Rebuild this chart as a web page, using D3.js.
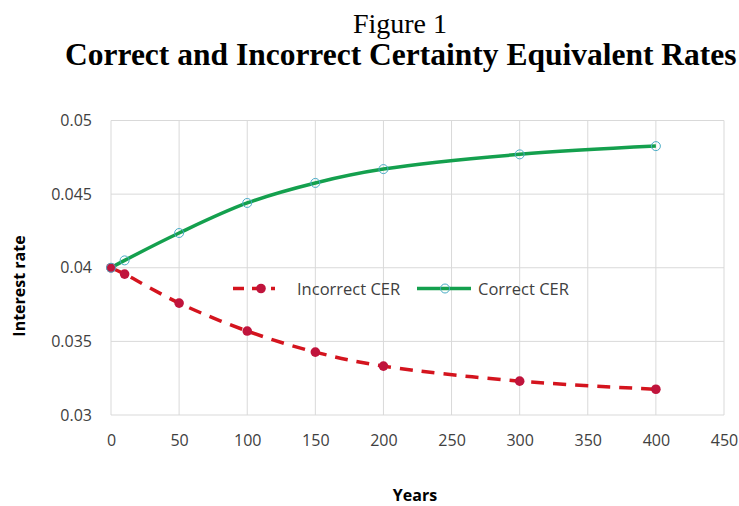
<!DOCTYPE html>
<html><head><meta charset="utf-8">
<script src="https://cdn.jsdelivr.net/npm/d3@7"></script>
<style>body{margin:0;background:#fff;overflow:hidden}</style>
</head><body>
<svg id="c" width="739" height="506"></svg>
<script>
const years = [0, 10, 50, 100, 150, 200, 300, 400];
const correctCER = [0.0400, 0.0405, 0.04236, 0.0444, 0.04576, 0.0467, 0.0477, 0.04826];
const incorrectCER = [0.0400, 0.03957, 0.0376, 0.0357, 0.03427, 0.03332, 0.0323, 0.03175];
const xTicks = [0, 50, 100, 150, 200, 250, 300, 350, 400, 450];
const yTicks = [0.03, 0.035, 0.04, 0.045, 0.05];
const seriesNames = ["Incorrect CER", "Correct CER"];

const svg = d3.select("#c");
const x = d3.scaleLinear().domain([0, 450]).range([111, 724]);
const y = d3.scaleLinear().domain([0.03, 0.05]).range([415, 120.5]);
const sans = "Open Sans, sans-serif";

svg.append("text").attr("x", 400).attr("y", 33).attr("text-anchor", "middle")
  .attr("font-family", "Liberation Serif, Times New Roman, serif").attr("font-size", 28).text("Figure 1");
svg.append("text").attr("x", 65).attr("y", 65)
  .attr("font-family", "Liberation Serif, Times New Roman, serif").attr("font-size", 31.5).attr("font-weight", "bold")
  .text("Correct and Incorrect Certainty Equivalent Rates");

// grid
const g = svg.append("g");
g.selectAll(".vg").data(xTicks).join("line")
  .attr("x1", d => x(d)).attr("x2", d => x(d)).attr("y1", y(0.05)).attr("y2", y(0.03))
  .attr("stroke", "#d9d9d9").attr("stroke-width", 1);
g.selectAll(".hg").data(yTicks).join("line")
  .attr("x1", x(0)).attr("x2", x(450)).attr("y1", d => y(d)).attr("y2", d => y(d))
  .attr("stroke", "#d9d9d9").attr("stroke-width", 1);

// axes tick labels
const xAxis = d3.axisBottom(x).tickValues(xTicks).tickSize(0).tickPadding(20).tickFormat(d3.format("d"));
const xa = svg.append("g").attr("transform", `translate(0,${y(0.03)})`).call(xAxis);
xa.select(".domain").remove();
xa.selectAll("text").attr("font-family", sans).attr("font-size", 16).attr("fill", "#404040");
const yAxis = d3.axisLeft(y).tickValues(yTicks).tickSize(0).tickPadding(19).tickFormat(d => String(+d.toFixed(3)));
const ya = svg.append("g").attr("transform", `translate(${x(0)},0)`).call(yAxis);
ya.select(".domain").remove();
ya.selectAll("text").attr("font-family", sans).attr("font-size", 16).attr("fill", "#404040");

svg.append("text").attr("transform", "translate(25,286) rotate(-90)").attr("text-anchor", "middle")
  .attr("font-family", sans).attr("font-weight", "bold").attr("font-size", 16).attr("fill", "#000")
  .text("Interest rate");
svg.append("text").attr("x", 415).attr("y", 501).attr("text-anchor", "middle")
  .attr("font-family", sans).attr("font-weight", "bold").attr("font-size", 16).attr("fill", "#000")
  .text("Years");

const red = "#d4141e", green = "#14a04e", teal = "#4bacc6", dotRed = "#c0143c";
const line = d3.line().curve(d3.curveCatmullRom.alpha(0.5)).x((d, i) => x(years[i])).y(d => y(d));

svg.append("path").attr("d", line(incorrectCER)).attr("fill", "none").attr("stroke", red)
  .attr("stroke-width", 3.5).attr("stroke-dasharray", "13,9");
svg.append("path").attr("d", line(correctCER)).attr("fill", "none").attr("stroke", green)
  .attr("stroke-width", 3.5);

svg.selectAll(".ri").data(incorrectCER).join("circle")
  .attr("cx", (d, i) => x(years[i])).attr("cy", d => y(d)).attr("r", 4.8).attr("fill", dotRed);
svg.selectAll(".gc").data(correctCER).join("circle")
  .attr("cx", (d, i) => x(years[i])).attr("cy", d => y(d)).attr("r", 4.5)
  .attr("fill", "none").attr("stroke", teal).attr("stroke-width", 1);

// legend
const ly = 288.5;
svg.append("line").attr("x1", 233).attr("x2", 275).attr("y1", ly).attr("y2", ly)
  .attr("stroke", red).attr("stroke-width", 3.5).attr("stroke-dasharray", "11,8");
svg.append("circle").attr("cx", 261).attr("cy", ly).attr("r", 4.8).attr("fill", dotRed);
svg.append("text").attr("x", 297).attr("y", ly + 6).attr("font-family", sans)
  .attr("font-size", 16.5).attr("fill", "#404040").text(seriesNames[0]);
svg.append("line").attr("x1", 417).attr("x2", 471).attr("y1", ly).attr("y2", ly)
  .attr("stroke", green).attr("stroke-width", 3.5);
svg.append("circle").attr("cx", 445).attr("cy", ly).attr("r", 4.5).attr("fill", "none").attr("stroke", teal).attr("stroke-width", 1);
svg.append("text").attr("x", 478).attr("y", ly + 6).attr("font-family", sans)
  .attr("font-size", 16.5).attr("fill", "#404040").text(seriesNames[1]);
</script>
</body></html>
